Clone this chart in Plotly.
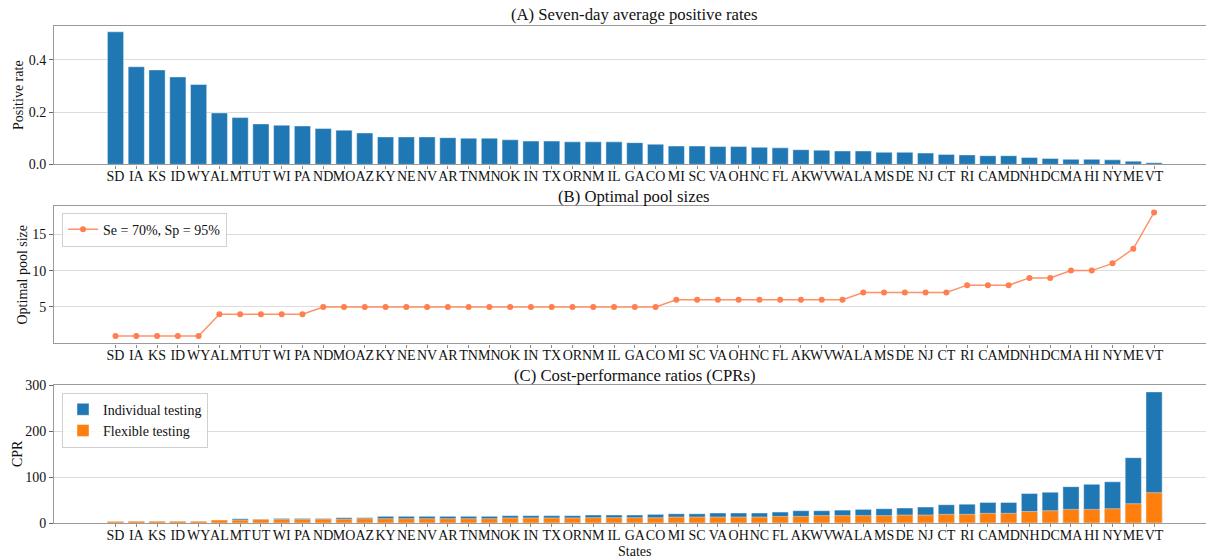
import plotly.graph_objects as go

states = ["SD", "IA", "KS", "ID", "WY", "AL", "MT", "UT", "WI", "PA", "ND", "MO", "AZ",
          "KY", "NE", "NV", "AR", "TN", "MN", "OK", "IN", "TX", "OR", "NM", "IL", "GA",
          "CO", "MI", "SC", "VA", "OH", "NC", "FL", "AK", "WV", "WA", "LA", "MS", "DE",
          "NJ", "CT", "RI", "CA", "MD", "NH", "DC", "MA", "HI", "NY", "ME", "VT"]

positive_rate = [0.508, 0.374, 0.362, 0.335, 0.306, 0.197, 0.179, 0.155, 0.150, 0.147,
                 0.137, 0.131, 0.120, 0.105, 0.105, 0.105, 0.102, 0.100, 0.100, 0.094,
                 0.089, 0.089, 0.086, 0.086, 0.086, 0.083, 0.077, 0.070, 0.070, 0.068,
                 0.068, 0.065, 0.063, 0.056, 0.054, 0.051, 0.051, 0.046, 0.046, 0.043,
                 0.038, 0.036, 0.033, 0.033, 0.026, 0.022, 0.019, 0.019, 0.017, 0.012, 0.006]

pool_size = [1, 1, 1, 1, 1, 4, 4, 4, 4, 4, 5, 5, 5, 5, 5, 5, 5, 5, 5, 5, 5, 5, 5, 5, 5, 5,
             5, 6, 6, 6, 6, 6, 6, 6, 6, 6, 7, 7, 7, 7, 7, 8, 8, 8, 9, 9, 10, 10, 11, 13, 18]

cpr_individual = [3.0, 3.6, 3.6, 3.6, 3.6, 6.5, 9.4, 8.5, 10.0, 10.0, 10.0, 11.6, 11.6,
                  14.5, 14.5, 14.5, 14.5, 14.5, 14.5, 16.0, 16.0, 16.0, 16.0, 17.4, 17.4,
                  17.4, 18.8, 20.0, 20.0, 21.7, 21.7, 21.7, 23.8, 26.7, 26.7, 28.0, 29.6,
                  31.0, 32.5, 34.7, 39.7, 41.0, 44.8, 44.8, 64.0, 67.0, 79.0, 84.0, 89.5,
                  142.0, 285.0]

cpr_flexible = [3.0, 3.6, 3.6, 3.6, 3.6, 6.5, 6.5, 7.5, 8.0, 8.0, 8.5, 8.5, 9.4, 9.4,
                9.4, 9.4, 9.4, 9.4, 9.4, 11.0, 11.0, 11.0, 11.0, 11.5, 11.5, 11.5, 11.5,
                13.0, 13.0, 13.0, 13.0, 13.0, 14.4, 14.4, 16.0, 16.0, 16.0, 16.0, 17.3,
                17.3, 18.8, 18.8, 21.0, 21.0, 25.0, 26.7, 29.6, 29.6, 31.0, 42.0, 66.0]

W, H = 1206, 560
FONT = "Liberation Serif, Times New Roman, serif"
BLUE = "#1f77b4"
ORANGE = "#ff7f0e"
CORAL = "#ff7f50"
SPINE = "#9a9a9a"
GRID = "#dcdcdc"
TXT = "#111111"


def ydom(top_px, bottom_px):
    return [1 - bottom_px / H, 1 - top_px / H]


x_dom = [54.3 / W, 1.0]
x_range = [-2.947, 52.5]

fig = go.Figure()

edge = dict(color="rgba(255,255,255,0.55)", width=0.8)

fig.add_trace(go.Bar(x=states, y=positive_rate, marker=dict(color=BLUE, line=edge),
                     width=0.78, xaxis="x", yaxis="y", showlegend=False))

fig.add_trace(go.Scatter(x=states, y=pool_size, mode="lines+markers",
                         name="Se = 70%, Sp = 95%",
                         line=dict(color="rgba(255,127,80,0.85)", width=1.5),
                         marker=dict(color=CORAL, size=6),
                         xaxis="x2", yaxis="y2", legend="legend"))

fig.add_trace(go.Bar(x=states, y=cpr_individual, name="Individual testing",
                     marker=dict(color=BLUE, line=edge), width=0.78,
                     xaxis="x3", yaxis="y3", legend="legend2"))
fig.add_trace(go.Bar(x=states, y=cpr_flexible, name="Flexible testing",
                     marker=dict(color=ORANGE, line=edge), width=0.78,
                     xaxis="x3", yaxis="y3", legend="legend2"))

xcommon = dict(domain=x_dom, range=x_range, type="category", tickmode="linear",
               tick0=0, dtick=1, tickangle=0, showgrid=False, zeroline=False,
               showline=True, mirror=True, linecolor=SPINE, linewidth=1.4,
               ticks="outside", ticklen=3, tickcolor="#888888",
               ticklabelstandoff=-4,
               tickfont=dict(family=FONT, size=14, color=TXT),
               automargin=False, fixedrange=True)
ycommon = dict(showgrid=True, gridcolor=GRID, gridwidth=1, zeroline=False,
               showline=True, linecolor=SPINE, linewidth=1.4,
               ticks="outside", ticklen=4, tickcolor="#666666",
               tickfont=dict(family=FONT, size=14, color=TXT),
               automargin=False, fixedrange=True)

fig.update_layout(
    width=W, height=H,
    margin=dict(l=0, r=0, t=0, b=0),
    paper_bgcolor="white", plot_bgcolor="white",
    barmode="overlay",
    font=dict(family=FONT, size=14, color=TXT),
    xaxis=dict(**xcommon, anchor="y"),
    yaxis=dict(**ycommon, domain=ydom(25.7, 164.3), range=[0, 0.5315],
               tickvals=[0.0, 0.2, 0.4], tickformat=".1f", anchor="x"),
    xaxis2=dict(**xcommon, anchor="y2"),
    yaxis2=dict(**ycommon, domain=ydom(205.7, 343.3), range=[0.0, 18.93],
                tickvals=[5, 10, 15], anchor="x2"),
    xaxis3=dict(**xcommon, anchor="y3"),
    yaxis3=dict(**ycommon, domain=ydom(385.0, 523.0), range=[0, 300],
                tickvals=[0, 100, 200, 300], anchor="x3"),
    legend=dict(x=62 / W, y=1 - 212.7 / H, xanchor="left", yanchor="top",
                bgcolor="rgba(255,255,255,0.85)", bordercolor="#d0d0d0", borderwidth=1,
                font=dict(family=FONT, size=14, color=TXT)),
    legend2=dict(x=62 / W, y=1 - 392.7 / H, xanchor="left", yanchor="top",
                 bgcolor="rgba(255,255,255,0.85)", bordercolor="#d0d0d0", borderwidth=1,
                 font=dict(family=FONT, size=14, color=TXT), traceorder="normal"),
    showlegend=True,
)

titles = [("(A) Seven-day average positive rates", 14.5),
          ("(B) Optimal pool sizes", 196.0),
          ("(C) Cost-performance ratios (CPRs)", 375.5)]
ann = []
for text, ypx in titles:
    ann.append(dict(text=text, x=634 / W, y=1 - ypx / H, xref="paper", yref="paper",
                    xanchor="center", yanchor="middle", showarrow=False,
                    font=dict(family=FONT, size=16.7, color=TXT)))

ylabels = [("Positive rate", 18, 95.0), ("Optimal pool size", 22, 274.5), ("CPR", 17, 454.0)]
for text, xpx, ypx in ylabels:
    ann.append(dict(text=text, x=xpx / W, y=1 - ypx / H, xref="paper", yref="paper",
                    xanchor="center", yanchor="middle", textangle=-90, showarrow=False,
                    font=dict(family=FONT, size=14, color=TXT)))

ann.append(dict(text="States", x=634 / W, y=1 - 551.5 / H, xref="paper", yref="paper",
                xanchor="center", yanchor="middle", showarrow=False,
                font=dict(family=FONT, size=14, color=TXT)))

fig.update_layout(annotations=ann)

fig.write_html("out.html", config={"displayModeBar": False},
               post_script="document.body.style.margin='0px';document.body.style.overflow='hidden';")
